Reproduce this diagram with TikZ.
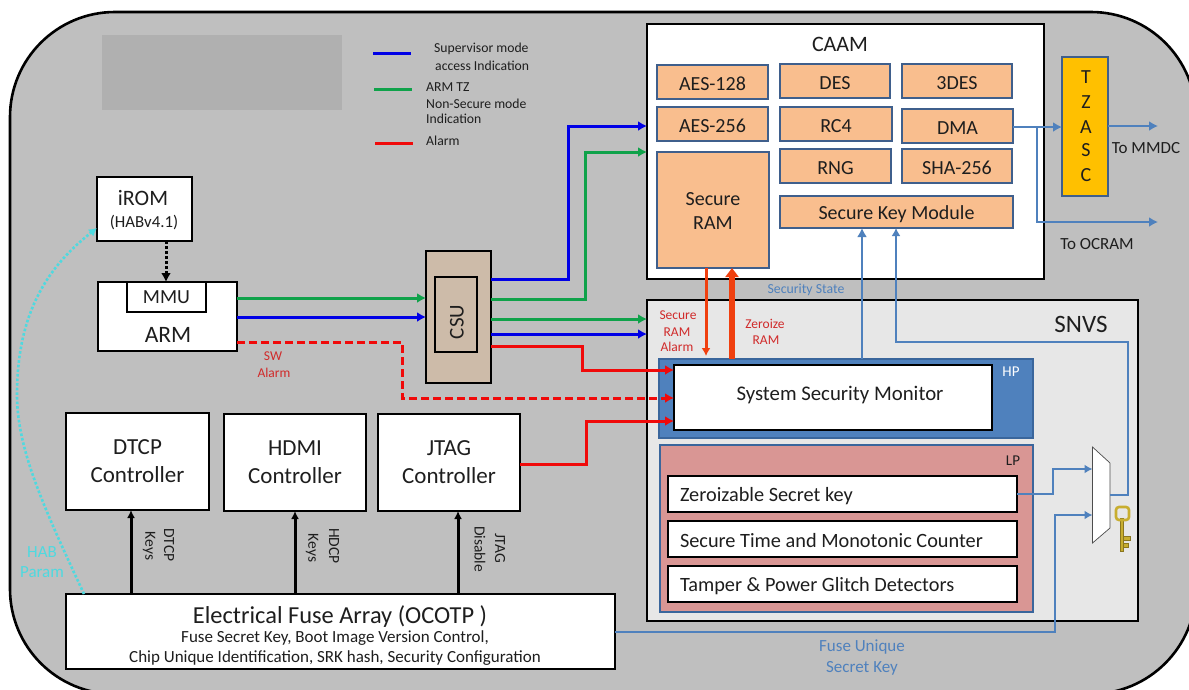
\documentclass[tikz,border=0pt]{standalone}
\usepackage{fontspec}
\setmainfont{Carlito}
\usetikzlibrary{arrows.meta,calc}
\definecolor{bgray}{HTML}{BFBFBF}
\definecolor{patch}{HTML}{B0B0B0}
\definecolor{csuf}{HTML}{CDBBA9}
\definecolor{orangef}{HTML}{F9BE8E}
\definecolor{obord}{HTML}{3F5F8C}
\definecolor{tz}{HTML}{FFC000}
\definecolor{lblue}{HTML}{4F81BD}
\definecolor{dblue}{HTML}{3A669C}
\definecolor{pinkf}{HTML}{D99694}
\definecolor{snvsf}{HTML}{E7E7E7}
\definecolor{ink}{HTML}{1E1E1E}
\definecolor{sblue}{HTML}{0000E6}
\definecolor{sgreen}{HTML}{0FA24A}
\definecolor{sred}{HTML}{F00A0A}
\definecolor{cyanl}{HTML}{4FD9DF}
\definecolor{lred}{HTML}{D02A2A}
\definecolor{hotred}{HTML}{F0400F}
\definecolor{keyg}{HTML}{C8AE30}
\definecolor{keyd}{HTML}{8A7620}
\newcommand{\fs}[1]{\fontsize{#1}{#1}\selectfont}
\newcommand{\dn}[1]{\raisebox{-2pt}[\height][\depth]{#1}}
\newcommand{\bx}[7]{\node[#1,anchor=north west,minimum width=#5-#3,minimum height=#6-#4] (#2) at (#3,#4) {#7};}
\tikzset{
 base/.style={inner sep=0pt,outer sep=0pt,text=ink,align=flush center},
 wbox/.style={base,draw=black,line width=2.4pt,fill=white},
 ctrl/.style={wbox,font={\fontsize{23}{28}\selectfont}},
 obox/.style={base,draw=obord,line width=2pt,fill=orangef,font=\fs{20}},
 lpbox/.style={base,draw=black,line width=2.4pt,fill=white,font=\fs{20.3},align=flush left,text width=325pt},
 lab/.style={inner sep=0pt,text=ink,align=flush center},
 wire/.style={line width=3pt,line join=miter},
 head/.style={-{Latex[length=9pt,width=10pt]}},
 bluew/.style={wire,sblue,head},
 greenw/.style={wire,sgreen,head},
 redw/.style={wire,sred,head},
 steel/.style={line width=2.8pt,lblue,-{Latex[length=9pt,width=10pt]}},
 steelthin/.style={line width=2.2pt,lblue,-{Latex[length=8pt,width=9pt]}},
 fusew/.style={line width=3pt,black,-{Latex[length=8pt,width=8pt]}},
}
\begin{document}
\begin{tikzpicture}[x=1pt,y=-1pt]
\useasboundingbox (0,0) rectangle (1189,689);
\fill[white] (0,0) rectangle (1189,689);
\draw[line width=2.6pt,fill=bgray,rounded corners=105pt] (10,12) rectangle (1196,694);
\fill[patch] (102,35) rectangle (342,110);
% legend
\coordinate (lb1) at (373,53); \coordinate (lb2) at (411,53);
\coordinate (lg1) at (374,89); \coordinate (lg2) at (412,89);
\coordinate (lr1) at (375,143); \coordinate (lr2) at (413,143);
\draw[line width=3pt,sblue] (lb1)--(lb2);
\draw[line width=3pt,sgreen] (lg1)--(lg2);
\draw[line width=3pt,sred] (lr1)--(lr2);
\node[lab,anchor=west,font=\fs{13.7}] (t1) at (434,49) {Supervisor mode};
\node[lab,anchor=west,font=\fs{13.7}] (t2) at (435,66) {access Indication};
\node[lab,anchor=west,font=\fs{13.7}] (t3) at (426,87) {ARM TZ};
\node[lab,anchor=west,font=\fs{13.7}] (t4) at (426,104) {Non-Secure mode};
\node[lab,anchor=west,font=\fs{13.7}] (t5) at (426,119) {Indication};
\node[lab,anchor=west,font=\fs{13.7}] (t6) at (426,141) {Alarm};
% left blocks
\bx{wbox}{irom}{97}{177}{192}{241}{}
\node[lab,font=\fs{22}] (iromt) at (143,198) {iROM};
\node[lab,font=\fs{16.8}] (iromv) at (144,223) {(HABv4.1)};
\bx{wbox}{arm}{98}{282}{237}{351}{}
\bx{wbox}{mmu}{127}{282}{206}{312}{\fs{20}MMU}
\node[lab,font=\fs{23.5}] (armt) at (168,335) {ARM};
\bx{base,draw=black,line width=2.4pt,fill=csuf}{csu}{426}{251}{491}{383}{}
\bx{base,draw=black,line width=2.4pt,fill=csuf}{csui}{435}{277}{477}{352}{}
\node[lab,rotate=90,font=\fs{21}] (csut) at (457,322) {CSU};
% CAAM
\bx{base,draw=black,line width=2.4pt,fill=white}{caam}{647}{24}{1044}{279}{}
\node[lab,font=\fs{22}] (caamt) at (840,44) {CAAM};
\bx{obox}{aes1}{657}{65}{768}{99}{\dn{AES-128}}
\bx{obox}{des}{780}{64}{890}{98}{\dn{DES}}
\bx{obox}{des3}{902}{64}{1012}{98}{\dn{3DES}}
\bx{obox}{aes2}{657}{107}{768}{141}{\dn{AES-256}}
\bx{obox}{rc4}{780}{107}{892}{141}{\dn{RC4}}
\bx{obox}{dma}{902}{109}{1013}{143}{\dn{DMA}}
\bx{obox}{sram}{657}{152}{769}{268}{}
\node[lab,font=\fs{20}] (sramt1) at (713,199) {Secure};
\node[lab,font=\fs{20}] (sramt2) at (713,223) {RAM};
\bx{obox}{rng}{780}{149}{891}{183}{\dn{RNG}}
\bx{obox}{sha}{902}{149}{1012}{183}{\dn{SHA-256}}
\bx{obox}{skm}{780}{196}{1013}{228}{\dn{Secure Key Module}}
% TZASC
\bx{base,draw=obord,line width=2.6pt,fill=tz}{tzasc}{1062}{57}{1108}{196}{}
\node[lab,font=\fs{20}] (tz1) at (1086,77) {T};
\node[lab,font=\fs{20}] (tz2) at (1086,102) {Z};
\node[lab,font=\fs{20}] (tz3) at (1086,127) {A};
\node[lab,font=\fs{20}] (tz4) at (1086,150) {S};
\node[lab,font=\fs{20}] (tz5) at (1086,175) {C};
\coordinate (mmdc) at (1158,126);
\coordinate (ocram) at (1158,222);
\node[lab,font=\fs{17}] (mmdct) at (1146,148) {To MMDC};
\node[lab,font=\fs{17}] (ocramt) at (1097,244) {To OCRAM};
\draw[steel] (dma.east |- 0,127) -- (tzasc.west |- 0,127);
\draw[steel] (1037,127) -- (1037,222) -- (ocram);
\draw[steel] (tzasc.east |- mmdc) -- (mmdc);
% SNVS
\bx{base,draw=black,line width=2.4pt,fill=snvsf}{snvs}{647}{300}{1138}{621}{}
\node[lab,font=\fs{25}] (snvst) at (1081,324) {SNVS};
\bx{base,draw=dblue,line width=1.5pt,fill=lblue}{hp}{659}{359}{1033}{438}{}
\node[lab,text=white,font=\fs{15}] (hpt) at (1011,372) {HP};
\bx{wbox}{ssm}{674}{365}{992}{430}{}
\node[lab,font=\fs{20.8}] (ssmt) at (840,395) {System Security Monitor};
\bx{base,draw=dblue,line width=2.6pt,fill=pinkf}{lp}{660}{445}{1033}{612}{}
\node[lab,font=\fs{15}] (lpt) at (1013,461) {LP};
\bx{lpbox}{zk}{668}{476}{1017}{512}{\dn{Zeroizable Secret key}}
\bx{lpbox}{stm}{668}{521}{1017}{557}{\dn{Secure Time and Monotonic Counter}}
\bx{lpbox}{tpg}{668}{566}{1017}{602}{\dn{Tamper \& Power Glitch Detectors}}
% mux
\draw[line width=.7pt,draw=black!70,fill=white] (1092.5,447) coordinate (mux1) -- (1110,463) -- (1110,528) -- (1092.5,543) coordinate (mux2) -- cycle;
\coordinate (muxout) at (1110,495);
% key
\draw[keyd,line width=.6pt,fill=keyg] (1120.5,518) rectangle (1123.5,551);
\draw[keyd,line width=.6pt,fill=keyg] (1123.5,536) rectangle (1130,540);
\draw[keyd,line width=.6pt,fill=keyg] (1123.5,543) rectangle (1128,547);
\draw[keyg,line width=2.6pt,rounded corners=3pt] (1116,507) rectangle (1129,520);
% bottom
\bx{ctrl}{dtcp}{66}{413}{209}{510}{DTCP\\Controller}
\bx{ctrl}{hdmi}{224}{414}{366}{511}{HDMI\\Controller}
\bx{ctrl}{jtag}{378}{414}{520}{511}{JTAG\\Controller}
\bx{wbox}{fuse}{66}{594}{615}{669}{}
\node[lab,font=\fs{24.4}] (fuse1) at (340,617) {Electrical Fuse Array (OCOTP )};
\node[lab,font=\fs{17}] (fuse2) at (335,638) {Fuse Secret Key, Boot Image Version Control,};
\node[lab,font=\fs{17}] (fuse3) at (335,658) {Chip Unique Identification, SRK hash, Security Configuration};
% left wires
\draw[line width=3pt,black,dotted,line cap=butt,-{Latex[length=9pt,width=10pt]}] (irom.south -| 166,0) -- (arm.north -| 166,0);
\draw[greenw] (arm.east |- 0,298) -- (csu.west |- 0,298);
\draw[bluew] (arm.east |- 0,317) -- (csu.west |- 0,317);
\draw[redw,dash pattern=on 8pt off 4pt] (arm.east |- 0,342) -- (402,342) -- (402,398) -- (ssm.west |- 0,398);
\node[lab,text=lred,font=\fs{13.5}] (sw1) at (273,356) {SW};
\node[lab,text=lred,font=\fs{13.5}] (sw2) at (274,373) {Alarm};
\draw[bluew] (csu.east |- 0,279) -- (568,279) -- (568,126) -- (caam.west |- 0,126);
\draw[greenw] (csu.east |- 0,299) -- (585,299) -- (585,152) -- (caam.west |- 0,152);
\draw[greenw] (csu.east |- 0,319) -- (snvs.west |- 0,319);
\draw[bluew] (csu.east |- 0,334) -- (snvs.west |- 0,334);
\draw[redw] (csu.east |- 0,346) -- (582,346) -- (582,370) -- (ssm.west |- 0,370);
\draw[redw] (jtag.east |- 0,464) -- (586,464) -- (586,421) -- (ssm.west |- 0,421);
% SNVS-CAAM
\draw[line width=3pt,hotred,-{Latex[length=8pt,width=9pt]}] (sram.south -| 706,0) -- ($(hp.north -| 706,0)+(0,-3)$);
\draw[line width=6pt,hotred,-{Triangle[length=9pt,width=13pt]}] (hp.north -| 732,0) -- (sram.south -| 732,0);
\node[lab,text=lred,font=\fs{13.5}] (sr1) at (678,315) {Secure};
\node[lab,text=lred,font=\fs{13.5}] (sr2) at (677,332) {RAM};
\node[lab,text=lred,font=\fs{13.5}] (sr3) at (677,347) {Alarm};
\node[lab,text=lred,font=\fs{13.5}] (zr1) at (765,324) {Zeroize};
\node[lab,text=lred,font=\fs{13.5}] (zr2) at (766,340) {RAM};
\draw[steel] (hp.north -| 862,0) -- (skm.south -| 862,0);
\node[lab,text=lblue,font=\fs{13.8}] (sst) at (806,290) {Security State};
\draw[steelthin] (muxout) -- (1128,495) -- (1128,342) -- (896,342) -- (skm.south -| 896,0);
\draw[steelthin] (zk.east) -- (1053,494) -- (1053,469) -- (mux1 |- 0,469);
\draw[steelthin] (fuse.east |- 0,632) -- (1055,632) -- (1055,515) -- (mux1 |- 0,515);
\node[lab,text=lblue,font=\fs{17}] (fu1) at (862,647) {Fuse Unique};
\node[lab,text=lblue,font=\fs{17}] (fu2) at (862,668) {Secret Key};
% fuse arrows
\draw[fusew] (fuse.north -| 131,0) -- (dtcp.south -| 131,0);
\draw[fusew] (fuse.north -| 295,0) -- (hdmi.south -| 295,0);
\draw[fusew] (fuse.north -| 458,0) -- (jtag.south -| 458,0);
\node[lab,rotate=-90,font=\fs{15.5}] (d1) at (169,545) {DTCP};
\node[lab,rotate=-90,font=\fs{15.5}] (d2) at (149,546) {Keys};
\node[lab,rotate=-90,font=\fs{15.5}] (h1) at (334,546) {HDCP};
\node[lab,rotate=-90,font=\fs{15.5}] (h2) at (312,548) {Keys};
\node[lab,rotate=-90,font=\fs{15.5}] (j1) at (500,548) {JTAG};
\node[lab,rotate=-90,font=\fs{15.5}] (j2) at (480,549) {Disable};
% HAB
\draw[line width=2.6pt,cyanl,dotted,-{Latex[length=8pt,width=9pt]}] (fuse.north -| 84,0) .. controls (45,510) and (17,450) .. (17,395) .. controls (17,310) and (50,265) .. (irom.west |- 0,228);
\node[lab,text=cyanl,font=\fs{17}] (hab1) at (42,552) {HAB};
\node[lab,text=cyanl,font=\fs{17}] (hab2) at (42,572) {Param};
\end{tikzpicture}
\end{document}
